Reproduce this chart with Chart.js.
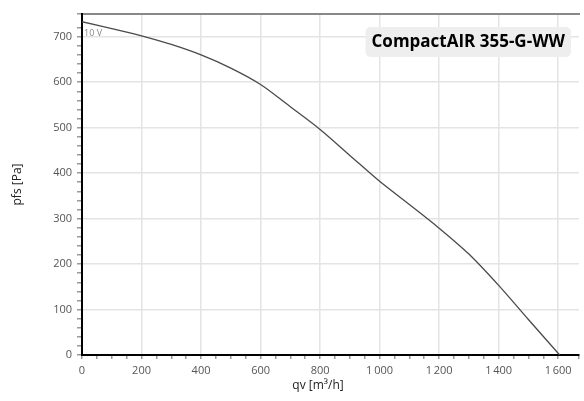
<!DOCTYPE html>
<html>
<head>
<meta charset="utf-8">
<script src="https://cdn.jsdelivr.net/npm/chart.js@4"></script>
<style>
  html, body { margin:0; padding:0; background:#fff; }
  #wrap { width:584px; height:401px; }
</style>
</head>
<body>
<div id="wrap"><canvas id="c"></canvas></div>
<script>
// fan curve
const flow     = [0, 100, 200, 300, 400, 500, 600, 700, 800, 900, 1000, 1100, 1200, 1300, 1400, 1500, 1605];
const pressure = [733, 718, 702, 683, 660, 631, 595, 546, 496, 439, 382, 331, 279, 222, 153, 78, 0];
const curveLabel = "10 V";
const modelName = "CompactAIR 355-G-WW";

const fmt = v => String(v).replace(/\B(?=(\d{3})+(?!\d))/g, "\u2009");

// title box + curve label
const overlay = {
  id: "overlay",
  afterDatasetsDraw(chart) {
    const ctx = chart.ctx, a = chart.chartArea;
    const x = chart.scales.x, y = chart.scales.y;
    ctx.save();
    ctx.font = "9px 'Open Sans', sans-serif";
    ctx.fillStyle = "#888";
    ctx.textBaseline = "middle";
    ctx.fillText(curveLabel, x.getPixelForValue(flow[0]) + 2, y.getPixelForValue(pressure[0]) + 12);

    ctx.font = "bold 17px 'Open Sans', sans-serif";
    const w = ctx.measureText(modelName).width;
    const bx = a.right - 10 - w - 10, by = 27;
    ctx.fillStyle = "#eeeeee";
    ctx.beginPath();
    ctx.roundRect(bx, by, w + 12, 30, 5);
    ctx.fill();
    ctx.fillStyle = "#000";
    ctx.fillText(modelName, bx + 6, by + 15);
    ctx.restore();
  }
};

new Chart(document.getElementById("c"), {
  type: "line",
  data: {
    datasets: [{
      data: flow.map((q, i) => ({ x: q, y: pressure[i] })),
      borderColor: "#4a4a4a",
      borderWidth: 1.3,
      pointRadius: 0,
      tension: 0.3,
      fill: false
    }]
  },
  options: {
    responsive: true,
    maintainAspectRatio: false,
    animation: false,
    layout: { padding: 0 },
    plugins: { legend: { display: false }, tooltip: { enabled: false } },
    scales: {
      x: {
        type: "linear", min: 0, max: 1670,
        afterFit(s) { s.height = 46; },
        border: { display: true, color: "#000", width: 2 },
        grid: {
          color: c => (c.tick && c.tick.value % 200 === 0 && c.tick.value > 0) ? "#e4e4e4" : "rgba(0,0,0,0)",
          lineWidth: 1.5,
          tickColor: "#999",
          tickLength: 4
        },
        ticks: {
          stepSize: 50, autoSkip: false, maxRotation: 0, padding: 5,
          color: "#555", font: { family: "'Open Sans', sans-serif", size: 11 },
          callback: v => v % 200 === 0 ? fmt(v) : ""
        },
        title: {
          display: true, text: "qv [m³/h]\u00a0\u00a0\u00a0\u00a0\u00a0\u00a0\u00a0\u00a0",
          color: "#222", font: { family: "'Open Sans', sans-serif", size: 12 },
          padding: { top: 8, bottom: 8 }
        }
      },
      xTop: {
        type: "linear", position: "top", min: 0, max: 1670,
        afterFit(s) { s.height = 14; },
        border: { display: true, color: "#888", width: 2 },
        grid: { display: false, drawTicks: false },
        ticks: { display: false }
      },
      y: {
        min: 0, max: 750,
        afterFit(s) { s.width = 82; },
        border: { display: true, color: "#000", width: 2 },
        grid: {
          color: c => (c.tick && c.tick.value % 100 === 0 && c.tick.value > 0) ? "#e4e4e4" : "rgba(0,0,0,0)",
          lineWidth: 1.5,
          tickColor: "#999",
          tickLength: 5
        },
        ticks: {
          stepSize: 20, autoSkip: false, padding: 5,
          color: "#555", font: { family: "'Open Sans', sans-serif", size: 11 },
          callback: v => v % 100 === 0 ? fmt(v) : ""
        },
        title: {
          display: true, text: "pfs [Pa]",
          color: "#222", font: { family: "'Open Sans', sans-serif", size: 12 },
          padding: { top: 10, bottom: 0 }
        }
      }
    }
  },
  plugins: [overlay]
});
</script>
</body>
</html>
